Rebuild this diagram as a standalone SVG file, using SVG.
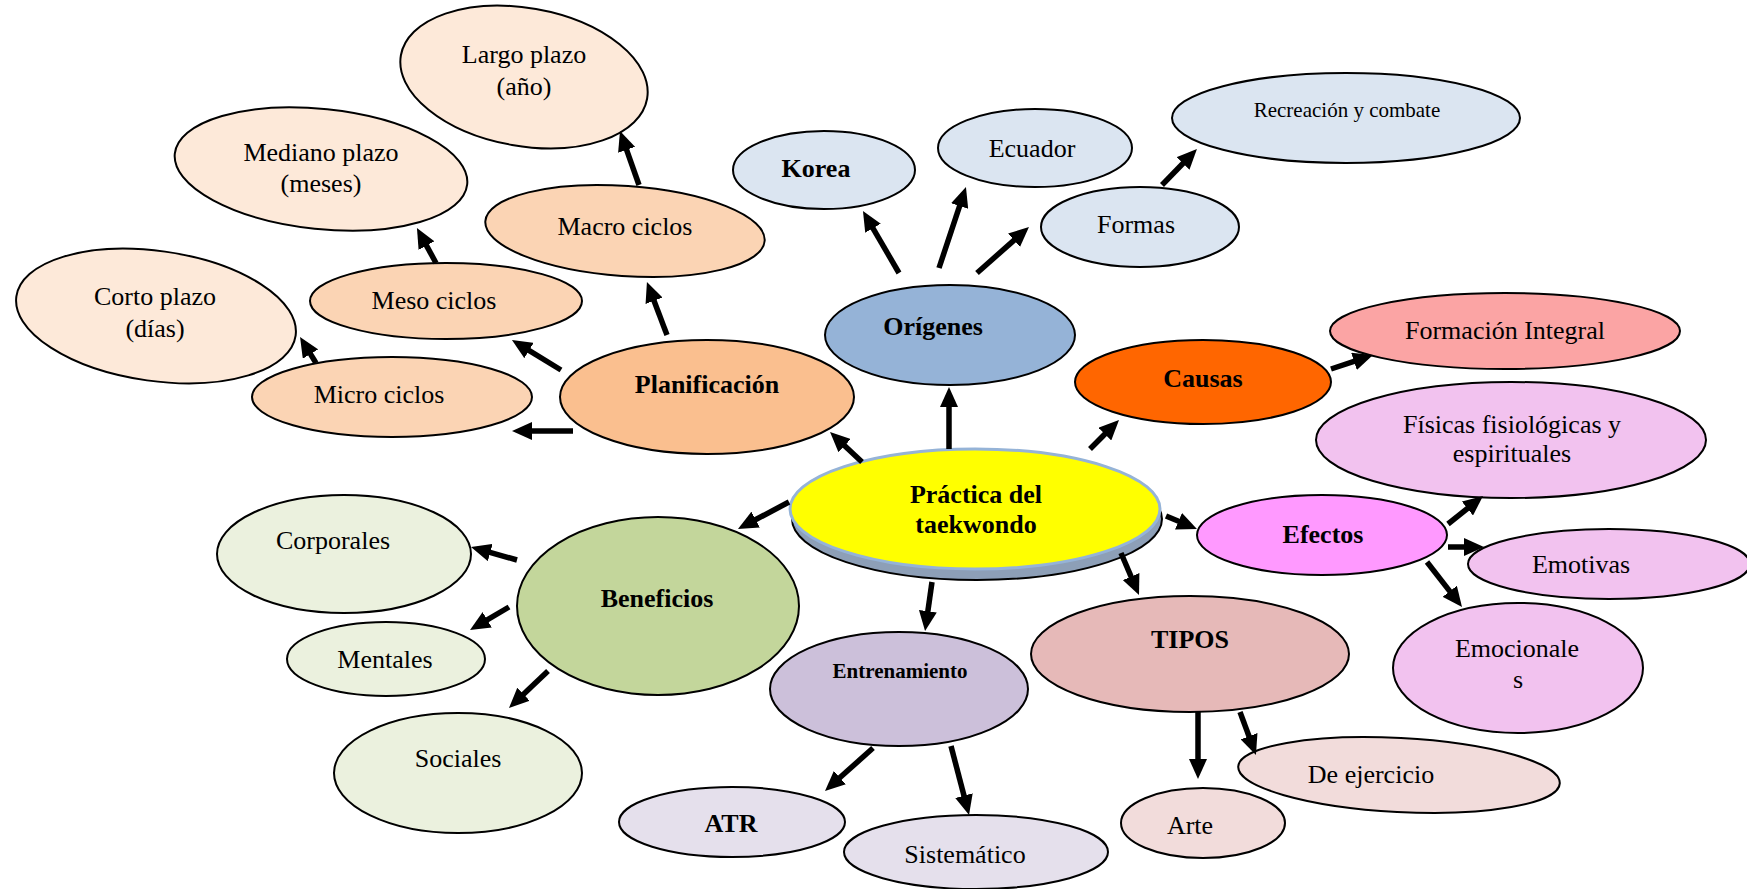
<svg xmlns="http://www.w3.org/2000/svg" width="1747" height="889" viewBox="0 0 1747 889">
<defs>
<style>
ellipse{stroke:#000;stroke-width:2}
text{font-family:"Liberation Serif","Times New Roman",serif;font-size:26px;fill:#000;text-anchor:middle}
.b{font-weight:bold}
.pl1{fill:#fde9d9}.pl2{fill:#fbd4b4}.pl3{fill:#fabf8f}
.or1{fill:#dbe5f1}.or2{fill:#95b3d7}
.ca{fill:#ff6600}.fi{fill:#fba4a4}
.ef{fill:#ff99ff}.ef1{fill:#f2c2ef}
.ti{fill:#e6b9b8}.ti1{fill:#f2dcdb}
.en{fill:#ccc0da}.en1{fill:#e5e0ec}
.be{fill:#c3d69b}.be1{fill:#ebf1de}
.conn line{stroke:#000;stroke-width:5.5;marker-end:url(#ah)}
</style>
<marker id="ah" markerUnits="userSpaceOnUse" markerWidth="20" markerHeight="18" refX="4" refY="9" orient="auto">
<path d="M0,0 L20,9 L0,18 z" fill="#000"/>
</marker>
</defs>
<rect width="1747" height="889" fill="#fff"/>

<g id="largo"><ellipse class="pl1" cx="524" cy="77" rx="125" ry="69" transform="rotate(10 524 77)"/><text x="524" y="63">Largo plazo</text><text x="524" y="95">(año)</text></g>
<g id="mediano"><ellipse class="pl1" cx="321" cy="169" rx="147" ry="60" transform="rotate(6 321 169)"/><text x="321" y="161">Mediano plazo</text><text x="321" y="192">(meses)</text></g>
<g id="corto"><ellipse class="pl1" cx="156" cy="316" rx="141" ry="65" transform="rotate(8 156 316)"/><text x="155" y="305">Corto plazo</text><text x="155" y="337">(días)</text></g>
<g id="macro"><ellipse class="pl2" cx="625" cy="231" rx="140" ry="45" transform="rotate(4 625 231)"/><text x="625" y="235">Macro ciclos</text></g>
<g id="meso"><ellipse class="pl2" cx="446" cy="301" rx="136" ry="38"/><text x="434" y="309">Meso ciclos</text></g>
<g id="micro"><ellipse class="pl2" cx="392" cy="397" rx="140" ry="40"/><text x="379" y="403">Micro ciclos</text></g>
<g id="planificacion"><ellipse class="pl3" cx="707" cy="397" rx="147" ry="57"/><text class="b" x="707" y="393">Planificación</text></g>

<g id="korea"><ellipse class="or1" cx="824" cy="170" rx="91" ry="39"/><text class="b" x="816" y="177">Korea</text></g>
<g id="ecuador"><ellipse class="or1" cx="1035" cy="148" rx="97" ry="39"/><text x="1032" y="157">Ecuador</text></g>
<g id="formas"><ellipse class="or1" cx="1140" cy="227" rx="99" ry="40"/><text x="1136" y="233">Formas</text></g>
<g id="recreacion"><ellipse class="or1" cx="1346" cy="118" rx="174" ry="45"/><text x="1347" y="117" style="font-size:21px">Recreación y combate</text></g>
<g id="origenes"><ellipse class="or2" cx="950" cy="335" rx="125" ry="50"/><text class="b" x="933" y="335">Orígenes</text></g>

<g id="causas"><ellipse class="ca" cx="1203" cy="382" rx="128" ry="42"/><text class="b" x="1203" y="387">Causas</text></g>
<g id="formacion"><ellipse class="fi" cx="1505" cy="331" rx="175" ry="38"/><text x="1505" y="339">Formación Integral</text></g>

<g id="fisicas"><ellipse class="ef1" cx="1511" cy="440" rx="195" ry="58"/><text x="1512" y="433">Físicas fisiológicas y</text><text x="1512" y="462">espirituales</text></g>
<g id="efectos"><ellipse class="ef" cx="1322" cy="535" rx="125" ry="40"/><text class="b" x="1323" y="543">Efectos</text></g>
<g id="emotivas"><ellipse class="ef1" cx="1609" cy="564" rx="141" ry="35"/><text x="1581" y="573">Emotivas</text></g>
<g id="emocionales"><ellipse class="ef1" cx="1518" cy="668" rx="125" ry="65"/><text x="1517" y="657">Emocionale</text><text x="1518" y="688">s</text></g>

<g id="practica">
<ellipse cx="977" cy="519" rx="185" ry="61" fill="#8d9fb7" stroke="none"/>
<ellipse cx="975" cy="509" rx="185" ry="60" fill="#ffff00" style="stroke:#95b3d7;stroke-width:3"/>
<text class="b" x="976" y="503">Práctica del</text><text class="b" x="976" y="533">taekwondo</text></g>

<g id="tipos"><ellipse class="ti" cx="1190" cy="654" rx="159" ry="58"/><text class="b" x="1190" y="648">TIPOS</text></g>
<g id="ejercicio"><ellipse class="ti1" cx="1399" cy="775" rx="161" ry="37" transform="rotate(3 1399 775)"/><text x="1371" y="783">De ejercicio</text></g>
<g id="arte"><ellipse class="ti1" cx="1203" cy="823" rx="82" ry="35"/><text x="1190" y="834">Arte</text></g>

<g id="entrenamiento"><ellipse class="en" cx="899" cy="689" rx="129" ry="57"/><text class="b" x="900" y="678" style="font-size:21px">Entrenamiento</text></g>
<g id="atr"><ellipse class="en1" cx="732" cy="822" rx="113" ry="35"/><text class="b" x="731" y="832">ATR</text></g>
<g id="sistematico"><ellipse class="en1" cx="976" cy="852" rx="132" ry="37"/><text x="965" y="863">Sistemático</text></g>

<g id="beneficios"><ellipse class="be" cx="658" cy="606" rx="141" ry="89"/><text class="b" x="657" y="607">Beneficios</text></g>
<g id="corporales"><ellipse class="be1" cx="344" cy="554" rx="127" ry="59"/><text x="333" y="549">Corporales</text></g>
<g id="mentales"><ellipse class="be1" cx="386" cy="659" rx="99" ry="37"/><text x="385" y="668">Mentales</text></g>
<g id="sociales"><ellipse class="be1" cx="458" cy="773" rx="124" ry="60"/><text x="458" y="767">Sociales</text></g>

<g id="connectors" class="conn">
<line x1="949" y1="449" x2="949" y2="403"/>
<line x1="862" y1="462" x2="841.7" y2="442.9"/>
<line x1="1090" y1="449" x2="1107.7" y2="431.3"/>
<line x1="1166" y1="516" x2="1182.2" y2="522.8"/>
<line x1="1121" y1="553" x2="1132.7" y2="580.3"/>
<line x1="932" y1="582" x2="927.3" y2="615.2"/>
<line x1="789" y1="502" x2="752.1" y2="521.5"/>
<line x1="899" y1="273" x2="871" y2="224.8"/>
<line x1="939" y1="268" x2="960.9" y2="202.2"/>
<line x1="977" y1="273" x2="1017" y2="237.6"/>
<line x1="1162" y1="185" x2="1185.8" y2="160.5"/>
<line x1="1331" y1="369" x2="1357.8" y2="360.1"/>
<line x1="1448" y1="524" x2="1470.5" y2="506"/>
<line x1="1448" y1="547" x2="1468" y2="547"/>
<line x1="1427" y1="562" x2="1452.2" y2="594.4"/>
<line x1="1198" y1="712" x2="1198" y2="763"/>
<line x1="1240" y1="712" x2="1250.4" y2="740"/>
<line x1="873" y1="748" x2="836.9" y2="780.3"/>
<line x1="951" y1="746" x2="965" y2="799.5"/>
<line x1="517" y1="560" x2="486.4" y2="551.4"/>
<line x1="509" y1="607" x2="483.8" y2="621.9"/>
<line x1="548" y1="671" x2="520.6" y2="697"/>
<line x1="573" y1="431" x2="528" y2="431"/>
<line x1="561" y1="370" x2="525.6" y2="348.4"/>
<line x1="667" y1="335" x2="652.6" y2="297"/>
<line x1="639" y1="185" x2="625.3" y2="146.1"/>
<line x1="436" y1="263" x2="424.6" y2="242.1"/>
<line x1="316" y1="363" x2="308.4" y2="350.6"/>
</g>
</svg>
